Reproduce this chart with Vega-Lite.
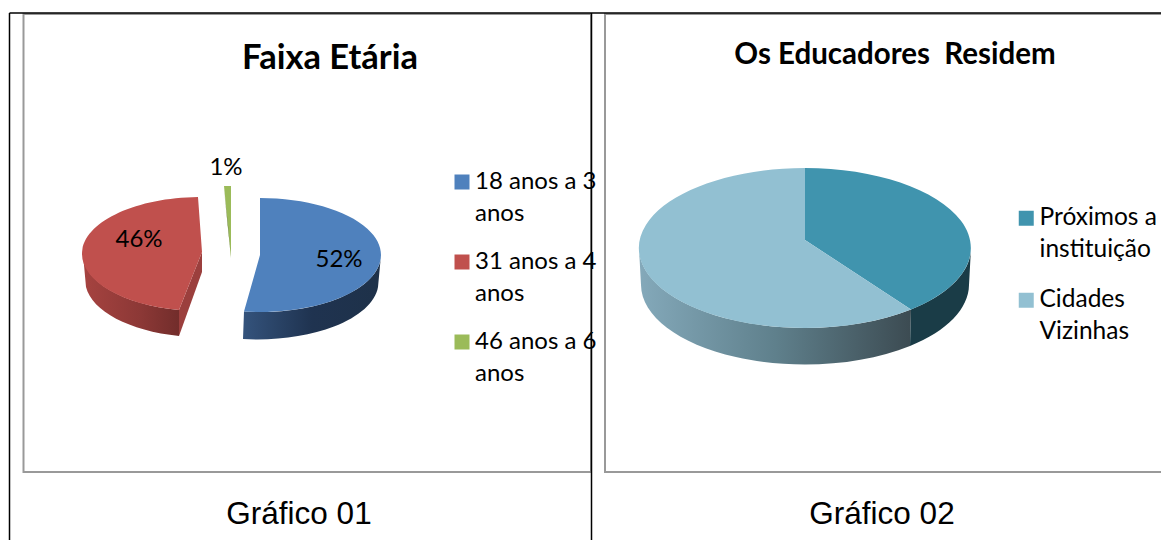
{
"$schema":"https://vega.github.io/schema/vega-lite/v6.json",
"width":1161,"height":540,"padding":0,"autosize":{"type":"none"},
"background":"white",
"config":{"view":{"stroke":null},"text":{"font":"Lato","fill":"#000000"}},
"datasets":{
"faixa":[{"faixa":"18 anos a 30 anos","pct":0.52},{"faixa":"31 anos a 45 anos","pct":0.46},{"faixa":"46 anos a 60 anos","pct":0.01}],
"residencia":[{"residencia":"Próximos a instituição","pct":0.39},{"residencia":"Cidades Vizinhas","pct":0.61}]
},
"data":{"name":"faixa"},
"layer":[
{"data":{"values":[{"t":0}]},"mark":{"type":"rect","fill":"white","stroke":"#999999","strokeWidth":2},
 "encoding":{"x":{"datum":23.5,"type":"quantitative","scale":{"domain":[0,1161],"nice":false,"zero":false},"axis":null},"x2":{"datum":591},
 "y":{"datum":14,"type":"quantitative","scale":{"domain":[0,540],"nice":false,"zero":false,"reverse":true},"axis":null},"y2":{"datum":472}}},
{"data":{"values":[{"t":0}]},"mark":{"type":"rect","fill":"white","stroke":"#999999","strokeWidth":2},
 "encoding":{"x":{"datum":605,"type":"quantitative","scale":{"domain":[0,1161],"nice":false,"zero":false},"axis":null},"x2":{"datum":1175},
 "y":{"datum":14,"type":"quantitative","scale":{"domain":[0,540],"nice":false,"zero":false,"reverse":true},"axis":null},"y2":{"datum":472}}},

{"transform":[{"filter":"datum.pct==0.46"}],"mark":{"type":"point","filled":true,"size":4,"opacity":1,"shape":"M-148,-1 A119,57 0 0 0 -52,55 L-52,81 A119,57 0 0 1 -145,32 Z","fill":{"gradient":"linear","x1":0,"y1":0,"x2":1,"y2":0,"stops":[{"offset":0,"color":"#a64340"},{"offset":0.6,"color":"#8c3836"},{"offset":1,"color":"#722d2b"}]}},
 "encoding":{"x":{"datum":231,"type":"quantitative","scale":{"domain":[0,1161],"nice":false,"zero":false},"axis":null},"y":{"datum":255,"type":"quantitative","scale":{"domain":[0,540],"nice":false,"zero":false,"reverse":true},"axis":null}}},
{"transform":[{"filter":"datum.pct==0.46"}],"mark":{"type":"point","filled":true,"size":4,"opacity":1,"shape":"M-29,-3 L-52,55 L-52,81 L-29,17 Z","fill":"#9b3f3d"},
 "encoding":{"x":{"datum":231,"type":"quantitative","scale":{"domain":[0,1161],"nice":false,"zero":false},"axis":null},"y":{"datum":255,"type":"quantitative","scale":{"domain":[0,540],"nice":false,"zero":false,"reverse":true},"axis":null}}},
{"transform":[{"filter":"datum.pct==0.52"}],"mark":{"type":"point","filled":true,"size":4,"opacity":1,"shape":"M150,0 A121,57 0 0 1 13,56.5 L12,84 A121,57 0 0 0 147,32 Z M29,-55 L30.5,0 L29,0 Z","fill":{"gradient":"linear","x1":0,"y1":0,"x2":1,"y2":0,"stops":[{"offset":0,"color":"#34537c"},{"offset":0.5,"color":"#1f3350"},{"offset":1,"color":"#1e3149"}]}},
 "encoding":{"x":{"datum":231,"type":"quantitative","scale":{"domain":[0,1161],"nice":false,"zero":false},"axis":null},"y":{"datum":255,"type":"quantitative","scale":{"domain":[0,540],"nice":false,"zero":false,"reverse":true},"axis":null}}},

{"mark":{"type":"point","filled":true,"size":4,"opacity":1},
 "encoding":{"x":{"datum":231,"type":"quantitative","scale":{"domain":[0,1161],"nice":false,"zero":false},"axis":null},"y":{"datum":255,"type":"quantitative","scale":{"domain":[0,540],"nice":false,"zero":false,"reverse":true},"axis":null},
 "shape":{"field":"faixa","type":"nominal","legend":null,"scale":{"domain":["18 anos a 30 anos","31 anos a 45 anos","46 anos a 60 anos"],"range":["M29,-57 A121,57 0 1 1 13,56.5 L29,0 Z","M-33,-58 A119,57 0 0 0 -52,55 L-29,-3 Z","M-7,-69 L0,-69 L0,3 Z"]}},
 "color":{"field":"faixa","type":"nominal","legend":null,"scale":{"domain":["18 anos a 30 anos","31 anos a 45 anos","46 anos a 60 anos"],"range":["#4f81bd","#c0504d","#9bbb59"]}}}},
{"mark":{"type":"point","filled":true,"size":0,"opacity":1,"shape":"square"},
 "encoding":{"x":{"datum":231,"type":"quantitative","scale":{"domain":[0,1161],"nice":false,"zero":false},"axis":null},"y":{"datum":255,"type":"quantitative","scale":{"domain":[0,540],"nice":false,"zero":false,"reverse":true},"axis":null},
 "color":{"field":"faixa","type":"nominal","scale":{"domain":["18 anos a 30 anos","31 anos a 45 anos","46 anos a 60 anos"],"range":["#4f81bd","#c0504d","#9bbb59"]},
 "legend":{"title":null,"orient":"none","legendX":450,"legendY":170,"padding":0,"symbolType":"square","symbolSize":225,"symbolOpacity":1,"symbolStrokeWidth":0,"labelFont":"Lato","labelFontSize":24,"labelColor":"#000000","labelOffset":1,"labelLimit":300,"rowPadding":24,"labelExpr":"[slice(datum.label,0,11),'anos']","encoding":{"labels":{"lineHeight":{"value":32}}}}}}},
{"transform":[{"filter":"datum.pct==0.01"}],"mark":{"type":"point","filled":true,"size":4,"opacity":1,"shape":"M-7,-66 L0,3 L-3,-30 Z","fill":"#4f6228"},
 "encoding":{"x":{"datum":231,"type":"quantitative","scale":{"domain":[0,1161],"nice":false,"zero":false},"axis":null},"y":{"datum":255,"type":"quantitative","scale":{"domain":[0,540],"nice":false,"zero":false,"reverse":true},"axis":null}}},

{"data":{"name":"residencia"},"transform":[{"filter":"datum.pct==0.61"}],"mark":{"type":"point","filled":true,"size":4,"opacity":1,"shape":"M-166,0 A166,80 0 0 0 106,61.5 L105,98 A164,80 0 0 1 -164,37 Z","fill":{"gradient":"linear","x1":0,"y1":0,"x2":1,"y2":0,"stops":[{"offset":0,"color":"#84a9ba"},{"offset":0.5,"color":"#5f808c"},{"offset":1,"color":"#3c4b52"}]}},
 "encoding":{"x":{"datum":805,"type":"quantitative","scale":{"domain":[0,1161],"nice":false,"zero":false},"axis":null},"y":{"datum":248,"type":"quantitative","scale":{"domain":[0,540],"nice":false,"zero":false,"reverse":true},"axis":null}}},
{"data":{"name":"residencia"},"transform":[{"filter":"datum.pct==0.39"}],"mark":{"type":"point","filled":true,"size":4,"opacity":1,"shape":"M166,0 A166,80 0 0 1 106,61.5 L105,98 A164,80 0 0 0 164,37 Z","fill":"#1a3c47"},
 "encoding":{"x":{"datum":805,"type":"quantitative","scale":{"domain":[0,1161],"nice":false,"zero":false},"axis":null},"y":{"datum":248,"type":"quantitative","scale":{"domain":[0,540],"nice":false,"zero":false,"reverse":true},"axis":null}}},
{"data":{"name":"residencia"},"mark":{"type":"point","filled":true,"size":4,"opacity":1},
 "encoding":{"x":{"datum":805,"type":"quantitative","scale":{"domain":[0,1161],"nice":false,"zero":false},"axis":null},"y":{"datum":248,"type":"quantitative","scale":{"domain":[0,540],"nice":false,"zero":false,"reverse":true},"axis":null},
 "shape":{"field":"residencia","type":"nominal","legend":null,"scale":{"domain":["Próximos a instituição","Cidades Vizinhas"],"range":["M0,-80 A166,80 0 0 1 106,61.5 L0,-8 Z","M0,-80 A166,80 0 1 0 106,61.5 L0,-8 Z"]}},
 "color":{"field":"residencia","type":"nominal","legend":null,"scale":{"domain":["Próximos a instituição","Cidades Vizinhas"],"range":["#4094ae","#92c0d2"]}}}},
{"data":{"name":"residencia"},"mark":{"type":"point","filled":true,"size":0,"opacity":1,"shape":"square"},
 "encoding":{"x":{"datum":805,"type":"quantitative","scale":{"domain":[0,1161],"nice":false,"zero":false},"axis":null},"y":{"datum":248,"type":"quantitative","scale":{"domain":[0,540],"nice":false,"zero":false,"reverse":true},"axis":null},
 "color":{"field":"residencia","type":"nominal","scale":{"domain":["Próximos a instituição","Cidades Vizinhas"],"range":["#4094ae","#92c0d2"]},
 "legend":{"title":null,"orient":"none","legendX":1014,"legendY":206,"padding":0,"symbolType":"square","symbolSize":225,"symbolOpacity":1,"symbolStrokeWidth":0,"labelFont":"Lato","labelFontSize":24.5,"labelColor":"#000000","labelOffset":1,"labelLimit":300,"rowPadding":25,"labelExpr":"datum.label=='Cidades Vizinhas'?['Cidades','Vizinhas']:['Próximos a','instituição']","encoding":{"labels":{"lineHeight":{"value":32}}}}}}},

{"transform":[{"filter":"datum.pct==0.52"}],"mark":{"type":"text","fontSize":24},"encoding":{"text":{"field":"pct","type":"quantitative","format":".0%"},"x":{"datum":339,"type":"quantitative","scale":{"domain":[0,1161],"nice":false,"zero":false},"axis":null},"y":{"datum":260,"type":"quantitative","scale":{"domain":[0,540],"nice":false,"zero":false,"reverse":true},"axis":null}}},
{"transform":[{"filter":"datum.pct==0.46"}],"mark":{"type":"text","fontSize":24},"encoding":{"text":{"field":"pct","type":"quantitative","format":".0%"},"x":{"datum":139,"type":"quantitative","scale":{"domain":[0,1161],"nice":false,"zero":false},"axis":null},"y":{"datum":240,"type":"quantitative","scale":{"domain":[0,540],"nice":false,"zero":false,"reverse":true},"axis":null}}},
{"transform":[{"filter":"datum.pct==0.01"}],"mark":{"type":"text","fontSize":24},"encoding":{"text":{"field":"pct","type":"quantitative","format":".0%"},"x":{"datum":226,"type":"quantitative","scale":{"domain":[0,1161],"nice":false,"zero":false},"axis":null},"y":{"datum":168,"type":"quantitative","scale":{"domain":[0,540],"nice":false,"zero":false,"reverse":true},"axis":null}}},

{"data":{"values":[{"t":"Faixa Etária"}]},"mark":{"type":"text","fontSize":34.5,"fontWeight":"bold"},"encoding":{"text":{"field":"t"},"x":{"datum":330,"type":"quantitative","scale":{"domain":[0,1161],"nice":false,"zero":false},"axis":null},"y":{"datum":59,"type":"quantitative","scale":{"domain":[0,540],"nice":false,"zero":false,"reverse":true},"axis":null}}},
{"data":{"values":[{"t":"Os Educadores \u00a0Residem"}]},"mark":{"type":"text","fontSize":29.5,"fontWeight":"bold"},"encoding":{"text":{"field":"t"},"x":{"datum":895,"type":"quantitative","scale":{"domain":[0,1161],"nice":false,"zero":false},"axis":null},"y":{"datum":55,"type":"quantitative","scale":{"domain":[0,540],"nice":false,"zero":false,"reverse":true},"axis":null}}},
{"data":{"values":[{"t":"Gráfico 01"}]},"mark":{"type":"text","fontSize":31.5,"font":"Liberation Sans"},"encoding":{"text":{"field":"t"},"x":{"datum":299,"type":"quantitative","scale":{"domain":[0,1161],"nice":false,"zero":false},"axis":null},"y":{"datum":515,"type":"quantitative","scale":{"domain":[0,540],"nice":false,"zero":false,"reverse":true},"axis":null}}},
{"data":{"values":[{"t":"Gráfico 02"}]},"mark":{"type":"text","fontSize":31.5,"font":"Liberation Sans"},"encoding":{"text":{"field":"t"},"x":{"datum":882,"type":"quantitative","scale":{"domain":[0,1161],"nice":false,"zero":false},"axis":null},"y":{"datum":515,"type":"quantitative","scale":{"domain":[0,540],"nice":false,"zero":false,"reverse":true},"axis":null}}},

{"data":{"values":[{"t":0}]},"mark":{"type":"rule","stroke":"#000000","strokeWidth":1.5},"encoding":{"x":{"datum":9.5,"type":"quantitative","scale":{"domain":[0,1161],"nice":false,"zero":false},"axis":null},"x2":{"datum":1161},"y":{"datum":13,"type":"quantitative","scale":{"domain":[0,540],"nice":false,"zero":false,"reverse":true},"axis":null}}},
{"data":{"values":[{"t":0}]},"mark":{"type":"rule","stroke":"#000000","strokeWidth":1.5},"encoding":{"x":{"datum":9.5,"type":"quantitative","scale":{"domain":[0,1161],"nice":false,"zero":false},"axis":null},"y":{"datum":13,"type":"quantitative","scale":{"domain":[0,540],"nice":false,"zero":false,"reverse":true},"axis":null},"y2":{"datum":540}}},
{"data":{"values":[{"t":0}]},"mark":{"type":"rule","stroke":"#000000","strokeWidth":1.5},"encoding":{"x":{"datum":591.5,"type":"quantitative","scale":{"domain":[0,1161],"nice":false,"zero":false},"axis":null},"y":{"datum":13,"type":"quantitative","scale":{"domain":[0,540],"nice":false,"zero":false,"reverse":true},"axis":null},"y2":{"datum":540}}}
],
"resolve":{"scale":{"color":"independent","shape":"independent"}}
}
